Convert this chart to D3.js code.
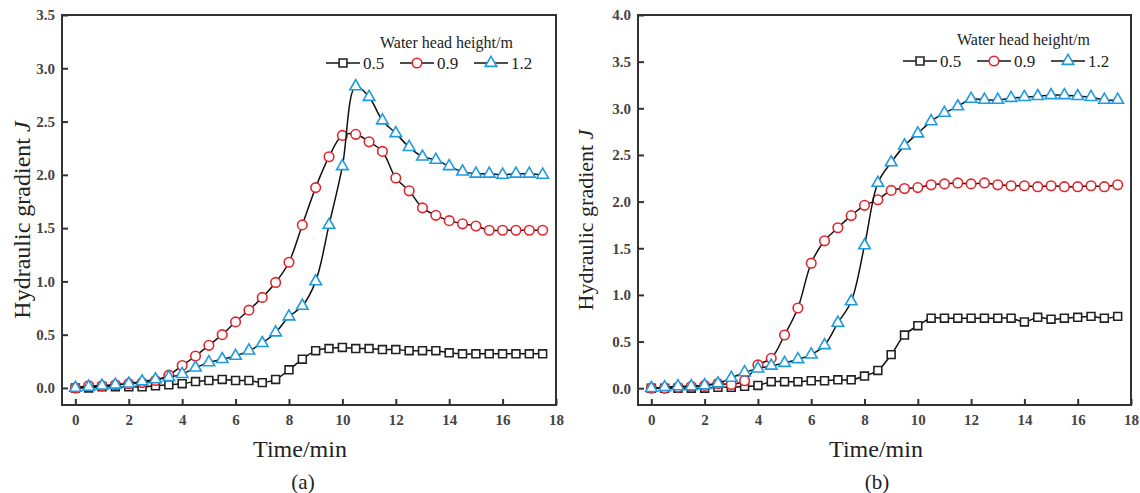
<!DOCTYPE html>
<html>
<head>
<meta charset="utf-8">
<script src="https://cdn.jsdelivr.net/npm/d3@7"></script>
<style>
  body { margin: 0; background: #fff; }
  text { font-family: "Liberation Serif", "Times New Roman", serif; }
</style>
</head>
<body>
<svg id="viz" width="1140" height="493"></svg>
<script>
// time in minutes, one reading every half minute
let time = d3.range(36).map(i => i * 0.5);

let xTicks = [0, 2, 4, 6, 8, 10, 12, 14, 16, 18];
let yTicksA = [0, 0.5, 1.0, 1.5, 2.0, 2.5, 3.0, 3.5];
let yTicksB = [0, 0.5, 1.0, 1.5, 2.0, 2.5, 3.0, 3.5, 4.0];

let headNames = ["0.5", "0.9", "1.2"];

// panel (a)
let a05 = [0, 0, 0.01, 0.01, 0.01, 0.01, 0.02, 0.03, 0.04, 0.06, 0.07, 0.08, 0.07, 0.07, 0.05, 0.08,
  0.17, 0.27, 0.35, 0.37, 0.38, 0.37, 0.37, 0.36, 0.36, 0.35, 0.35, 0.35, 0.33, 0.32, 0.32, 0.32,
  0.32, 0.32, 0.32, 0.32];
let a09 = [0, 0.02, 0.02, 0.03, 0.04, 0.05, 0.07, 0.12, 0.21, 0.30, 0.40, 0.50, 0.62, 0.73, 0.85, 0.99,
  1.18, 1.53, 1.88, 2.17, 2.37, 2.38, 2.31, 2.22, 1.97, 1.85, 1.69, 1.62, 1.57, 1.54, 1.52, 1.48,
  1.48, 1.48, 1.48, 1.48];
let a12 = [0, 0.01, 0.02, 0.03, 0.04, 0.06, 0.08, 0.10, 0.13, 0.19, 0.24, 0.27, 0.30, 0.35, 0.42, 0.52,
  0.67, 0.77, 1.00, 1.53, 2.08, 2.83, 2.73, 2.51, 2.39, 2.26, 2.17, 2.14, 2.08, 2.03, 2.01, 2.01,
  2.00, 2.01, 2.01, 2.00];

// panel (b)
let b05 = [0, 0, 0, 0, 0, 0.01, 0.01, 0.02, 0.03, 0.07, 0.07, 0.07, 0.08, 0.08, 0.09, 0.09,
  0.13, 0.19, 0.36, 0.57, 0.67, 0.75, 0.75, 0.75, 0.75, 0.75, 0.75, 0.75, 0.71, 0.76, 0.74, 0.75,
  0.76, 0.77, 0.75, 0.77];
let b09 = [0, 0, 0.01, 0.02, 0.03, 0.05, 0.04, 0.08, 0.25, 0.32, 0.57, 0.86, 1.34, 1.58, 1.72, 1.85,
  1.96, 2.02, 2.12, 2.14, 2.15, 2.18, 2.19, 2.20, 2.19, 2.20, 2.18, 2.17, 2.17, 2.16, 2.17, 2.16,
  2.16, 2.17, 2.16, 2.18];
let b12 = [0, 0.01, 0.02, 0.02, 0.03, 0.05, 0.11, 0.17, 0.21, 0.24, 0.27, 0.31, 0.36, 0.46, 0.70, 0.93,
  1.53, 2.20, 2.42, 2.60, 2.73, 2.86, 2.95, 3.02, 3.10, 3.09, 3.09, 3.11, 3.12, 3.13, 3.14, 3.14,
  3.13, 3.12, 3.09, 3.09];

let markerColors = ["#222222", "#e3242b", "#1e9bdf"];
let markerShapes = [d3.symbolSquare, d3.symbolCircle, d3.symbolTriangle];
let markerSizes = [62, 72, 58];

let panels = [
  { label: "(a)", series: [a05, a09, a12], yMax: 3.5, yMin: -0.16, yTicks: yTicksA,
    left: 62, right: 556, legendX: 380, legendY: 48, rowY: 63, yTitleX: 30, yTitleSize: 24, xTitleX: 300, tagX: 303 },
  { label: "(b)", series: [b05, b09, b12], yMax: 4.0, yMin: -0.18, yTicks: yTicksB,
    left: 638, right: 1131, legendX: 957, legendY: 45, rowY: 61, yTitleX: 593, yTitleSize: 22, xTitleX: 876, tagX: 877 }
];

let plotTop = 15, plotBottom = 405;
let svg = d3.select("#viz");

panels.forEach(p => {
  let x = d3.scaleLinear().domain([-0.5, 18]).range([p.left, p.right]);
  let y = d3.scaleLinear().domain([p.yMin, p.yMax]).range([plotBottom, plotTop]);
  let g = svg.append("g");

  // axes, ticks pointing inward
  let xAxis = g.append("g")
    .attr("transform", `translate(0, ${plotBottom})`)
    .call(d3.axisBottom(x).tickValues(xTicks).tickSizeInner(-6).tickSizeOuter(0).tickPadding(9).tickFormat(d3.format("d")));
  let yAxis = g.append("g")
    .attr("transform", `translate(${p.left}, 0)`)
    .call(d3.axisLeft(y).tickValues(p.yTicks).tickSizeInner(-6).tickSizeOuter(0).tickPadding(7).tickFormat(d3.format(".1f")));
  [xAxis, yAxis].forEach(ax => {
    ax.select(".domain").remove();
    ax.selectAll(".tick line").attr("stroke", "#333").attr("stroke-width", 2);
    ax.selectAll(".tick text")
      .attr("fill", "#444")
      .style("font-family", "'Liberation Serif', serif")
      .style("font-size", "15px")
      .style("font-weight", "bold");
  });

  // frame
  g.append("rect")
    .attr("x", p.left).attr("y", plotTop)
    .attr("width", p.right - p.left).attr("height", plotBottom - plotTop)
    .attr("fill", "none").attr("stroke", "#333").attr("stroke-width", 2);

  let line = d3.line()
    .x((d, i) => x(time[i]))
    .y(d => y(d))
    .curve(d3.curveCatmullRom.alpha(0.5));

  p.series.forEach((s, k) => {
    g.append("path")
      .datum(s)
      .attr("d", line)
      .attr("fill", "none")
      .attr("stroke", "#111")
      .attr("stroke-width", 1.5);
    g.selectAll(".m" + k)
      .data(s)
      .enter()
      .append("path")
      .attr("transform", (d, i) => `translate(${x(time[i])}, ${y(d)})`)
      .attr("d", d3.symbol().type(markerShapes[k]).size(markerSizes[k]))
      .attr("fill", "#fff")
      .attr("stroke", markerColors[k])
      .attr("stroke-width", 1.6);
  });

  // legend
  g.append("text")
    .attr("x", p.legendX).attr("y", p.legendY)
    .style("font-size", "16px").attr("fill", "#222")
    .text("Water head height/m");
  headNames.forEach((name, k) => {
    let cx = p.legendX - 37 + k * 74;
    g.append("line")
      .attr("x1", cx - 17).attr("x2", cx + 17)
      .attr("y1", p.rowY).attr("y2", p.rowY)
      .attr("stroke", "#111").attr("stroke-width", 1.5);
    g.append("path")
      .attr("transform", `translate(${cx}, ${p.rowY})`)
      .attr("d", d3.symbol().type(markerShapes[k]).size(markerSizes[k]))
      .attr("fill", "#fff")
      .attr("stroke", markerColors[k])
      .attr("stroke-width", 1.6);
    g.append("text")
      .attr("x", cx + 20).attr("y", p.rowY + 6)
      .style("font-size", "17px").attr("fill", "#222")
      .text(name);
  });

  // axis titles
  g.append("text")
    .attr("x", p.xTitleX).attr("y", 457)
    .attr("text-anchor", "middle")
    .style("font-size", "24px").attr("fill", "#222")
    .text("Time/min");
  let yt = g.append("text")
    .attr("transform", `translate(${p.yTitleX}, 220) rotate(-90)`)
    .attr("text-anchor", "middle")
    .style("font-size", p.yTitleSize + "px").attr("fill", "#222");
  yt.append("tspan").text("Hydraulic gradient ");
  yt.append("tspan").style("font-style", "italic").text("J");

  g.append("text")
    .attr("x", p.tagX).attr("y", 489)
    .attr("text-anchor", "middle")
    .style("font-size", "21px").attr("fill", "#222")
    .text(p.label);
});
</script>
</body>
</html>
